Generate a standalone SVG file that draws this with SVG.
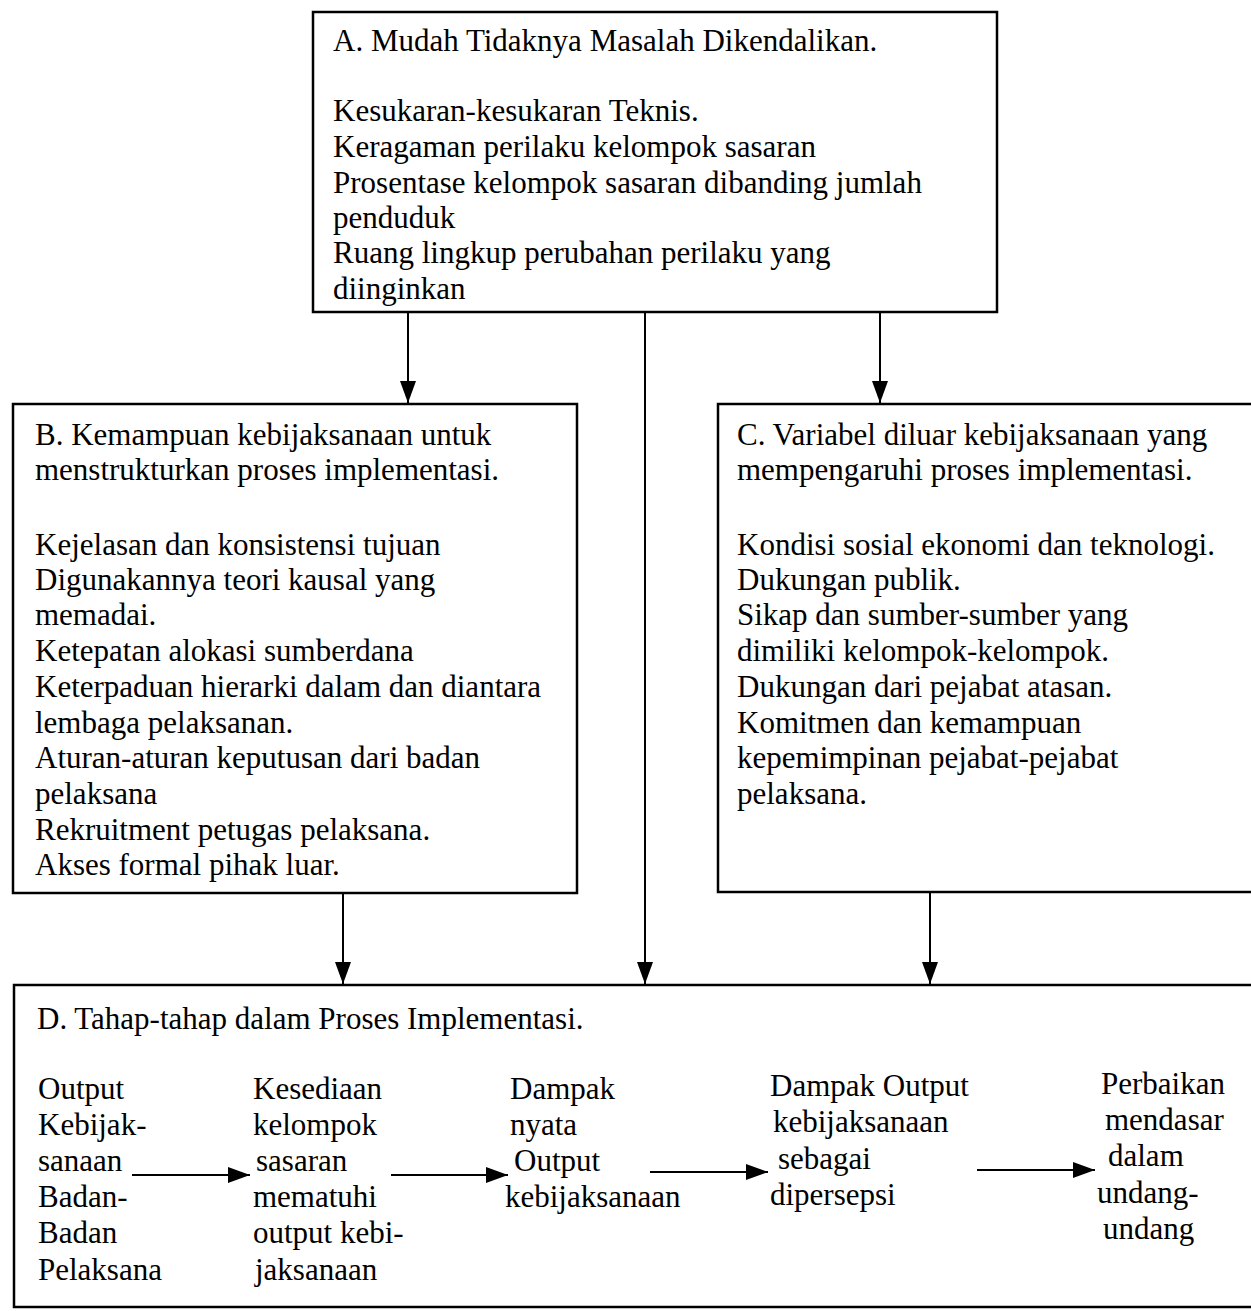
<svg xmlns="http://www.w3.org/2000/svg" width="1251" height="1311" viewBox="0 0 1251 1311">
<defs>
<style>
.box{fill:#fff;stroke:#000;stroke-width:2.5}
.t{font-family:"Liberation Serif","Times New Roman",serif;font-size:31px;fill:#000}
.ln{stroke:#000;stroke-width:2;fill:none}
</style>
<marker id="av" markerWidth="22" markerHeight="16" refX="22" refY="8" orient="auto" markerUnits="userSpaceOnUse" viewBox="0 0 22 16">
<path d="M0,0 L22,8 L0,16 Z" fill="#000"/>
</marker>
<marker id="ar" markerWidth="22" markerHeight="16" refX="22" refY="8" orient="auto" markerUnits="userSpaceOnUse" viewBox="0 0 22 16">
<path d="M0,0 L22,8 L0,16 Z" fill="#000"/>
</marker>
</defs>
<rect width="1251" height="1311" fill="#fff"/>

<g id="nodeA">
<rect class="box" x="313" y="12" width="684" height="300"/>
<text class="t">
<tspan x="333" y="51">A. Mudah Tidaknya Masalah Dikendalikan.</tspan>
<tspan x="333" y="121">Kesukaran-kesukaran Teknis.</tspan>
<tspan x="333" y="157">Keragaman perilaku kelompok sasaran</tspan>
<tspan x="333" y="193">Prosentase kelompok sasaran dibanding jumlah</tspan>
<tspan x="333" y="228">penduduk</tspan>
<tspan x="333" y="263">Ruang lingkup perubahan perilaku yang</tspan>
<tspan x="333" y="299">diinginkan</tspan>
</text>
</g>

<g id="nodeB">
<rect class="box" x="13" y="404" width="564" height="489"/>
<text class="t">
<tspan x="35" y="445">B. Kemampuan kebijaksanaan untuk</tspan>
<tspan x="35" y="480">menstrukturkan proses implementasi.</tspan>
<tspan x="35" y="555">Kejelasan dan konsistensi tujuan</tspan>
<tspan x="35" y="590">Digunakannya teori kausal yang</tspan>
<tspan x="35" y="625">memadai.</tspan>
<tspan x="35" y="661">Ketepatan alokasi sumberdana</tspan>
<tspan x="35" y="697">Keterpaduan hierarki dalam dan diantara</tspan>
<tspan x="35" y="733">lembaga pelaksanan.</tspan>
<tspan x="35" y="768">Aturan-aturan keputusan dari badan</tspan>
<tspan x="35" y="804">pelaksana</tspan>
<tspan x="35" y="840">Rekruitment petugas pelaksana.</tspan>
<tspan x="35" y="875">Akses formal pihak luar.</tspan>
</text>
</g>

<g id="nodeC">
<rect class="box" x="718" y="404" width="545" height="488"/>
<text class="t">
<tspan x="737" y="445">C. Variabel diluar kebijaksanaan yang</tspan>
<tspan x="737" y="480">mempengaruhi proses implementasi.</tspan>
<tspan x="737" y="555">Kondisi sosial ekonomi dan teknologi.</tspan>
<tspan x="737" y="590">Dukungan publik.</tspan>
<tspan x="737" y="625">Sikap dan sumber-sumber yang</tspan>
<tspan x="737" y="661">dimiliki kelompok-kelompok.</tspan>
<tspan x="737" y="697">Dukungan dari pejabat atasan.</tspan>
<tspan x="737" y="733">Komitmen dan kemampuan</tspan>
<tspan x="737" y="768">kepemimpinan pejabat-pejabat</tspan>
<tspan x="737" y="804">pelaksana.</tspan>
</text>
</g>

<g id="nodeD">
<rect class="box" x="14" y="985" width="1250" height="322"/>
<text class="t" x="37" y="1029">D. Tahap-tahap dalam Proses Implementasi.</text>
<text class="t">
<tspan x="38" y="1099">Output</tspan>
<tspan x="38" y="1135">Kebijak-</tspan>
<tspan x="38" y="1171">sanaan</tspan>
<tspan x="38" y="1207">Badan-</tspan>
<tspan x="38" y="1243">Badan</tspan>
<tspan x="38" y="1280">Pelaksana</tspan>
</text>
<text class="t">
<tspan x="253" y="1099">Kesediaan</tspan>
<tspan x="253" y="1135">kelompok</tspan>
<tspan x="256" y="1171">sasaran</tspan>
<tspan x="253" y="1207">mematuhi</tspan>
<tspan x="253" y="1243">output kebi-</tspan>
<tspan x="255" y="1280">jaksanaan</tspan>
</text>
<text class="t">
<tspan x="510" y="1099">Dampak</tspan>
<tspan x="510" y="1135">nyata</tspan>
<tspan x="514" y="1171">Output</tspan>
<tspan x="505" y="1207">kebijaksanaan</tspan>
</text>
<text class="t">
<tspan x="770" y="1096">Dampak Output</tspan>
<tspan x="773" y="1132">kebijaksanaan</tspan>
<tspan x="778" y="1169">sebagai</tspan>
<tspan x="770" y="1205">dipersepsi</tspan>
</text>
<text class="t">
<tspan x="1101" y="1094">Perbaikan</tspan>
<tspan x="1105" y="1130">mendasar</tspan>
<tspan x="1108" y="1166">dalam</tspan>
<tspan x="1097" y="1203">undang-</tspan>
<tspan x="1103" y="1239">undang</tspan>
</text>
</g>

<g id="connectors">
<line class="ln" x1="408" y1="313" x2="408" y2="403" marker-end="url(#av)"/>
<line class="ln" x1="880" y1="313" x2="880" y2="403" marker-end="url(#av)"/>
<line class="ln" x1="645" y1="313" x2="645" y2="984" marker-end="url(#av)"/>
<line class="ln" x1="343" y1="894" x2="343" y2="984" marker-end="url(#av)"/>
<line class="ln" x1="930" y1="893" x2="930" y2="984" marker-end="url(#av)"/>
<line class="ln" x1="132" y1="1175" x2="250" y2="1175" marker-end="url(#ar)"/>
<line class="ln" x1="391" y1="1175" x2="508" y2="1175" marker-end="url(#ar)"/>
<line class="ln" x1="650" y1="1172" x2="768" y2="1172" marker-end="url(#ar)"/>
<line class="ln" x1="977" y1="1170" x2="1095" y2="1170" marker-end="url(#ar)"/>
</g>
</svg>
